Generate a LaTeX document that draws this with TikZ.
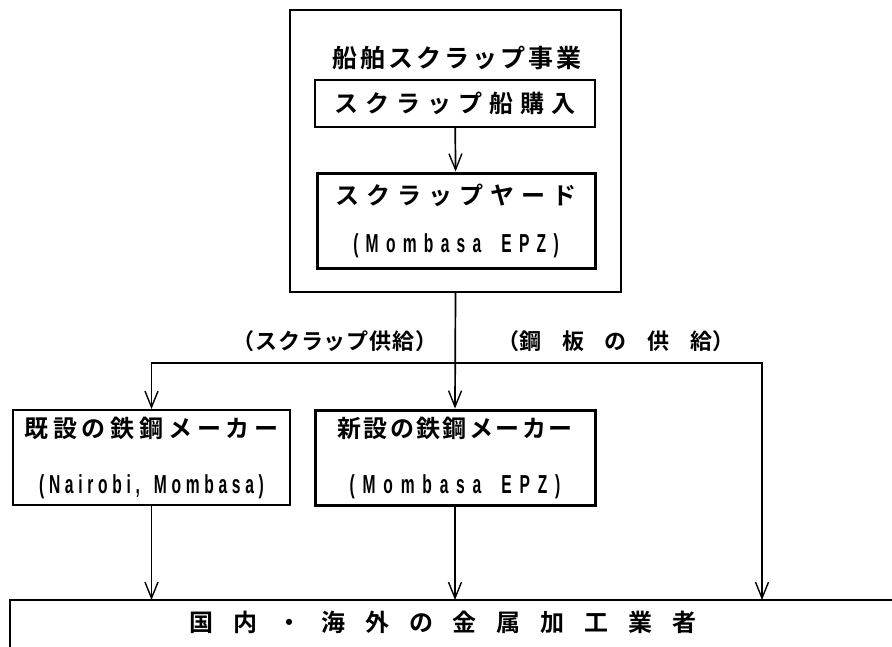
\documentclass[tikz,border=0pt]{standalone}
\usepackage{fontspec}
\setmainfont{Noto Sans CJK JP}[BoldFont={* Bold}]
\newfontfamily\lat[FakeStretch=0.6]{Liberation Sans Bold}
\usetikzlibrary{arrows.meta}
\newcommand{\lsp}[2]{{\addfontfeatures{LetterSpace=#1}#2}}
\newcommand{\latt}[2]{{\lat\fontsize{26}{26}\selectfont\addfontfeatures{LetterSpace=#1}#2}}
\newcommand{\wsp}{\hspace{20pt}}
\tikzset{
  box/.style={draw, line width=1.6pt, inner sep=0pt, align=center},
  thickbox/.style={box, line width=3pt},
  conn/.style={line width=1.7pt},
  arr/.style={conn, -{Straight Barb[length=16pt,width=13pt,line width=1.4pt]}},
  jp/.style={font=\fontsize{24}{24}\selectfont\bfseries, inner sep=0pt},
}
\begin{document}
\begin{tikzpicture}[x=1pt,y=-1pt]
\useasboundingbox[fill=white] (0,0) rectangle (892,646);
% top group
\node[box, minimum width=331pt, minimum height=282pt] (outer) at (455.5,151) {};
\node[jp, font=\fontsize{25}{25}\selectfont\bfseries] (title) at (457,58) {\lsp{12}{船舶スクラップ事業}};
\node[box, jp, minimum width=280pt, minimum height=47pt] (buy) at (455,103.5) {\lsp{29}{スクラップ船購入}};
\node[thickbox, jp, font=\fontsize{24}{48}\selectfont\bfseries, minimum width=278pt, minimum height=95pt] (yard) at (456,220.5)
  {\raisebox{-3pt}{\lsp{29}{スクラップヤード}}\\\raisebox{-3pt}{\latt{28}{(Mombasa\wsp EPZ)}}};
\draw[arr] (buy) -- (yard);
% makers
\node[box, jp, line width=2pt, font=\fontsize{24}{56}\selectfont\bfseries, minimum width=277pt, minimum height=95pt] (old) at (151.5,457.5)
  {\lsp{20}{既設の鉄鋼メーカー}\\\latt{18}{(Nairobi,\hspace{14pt}Mombasa)}};
\node[thickbox, jp, font=\fontsize{24}{56}\selectfont\bfseries, minimum width=280pt, minimum height=95pt] (new) at (455,457.5)
  {\lsp{10}{新設の鉄鋼メーカー}\\\latt{30}{(Mombasa\wsp EPZ)}};
% junction and labels
\coordinate (j) at (455,363);
\coordinate (r) at (762,363);
\node[jp, font=\fontsize{22}{22}\selectfont\bfseries] (lab1) at (335,341) {\lsp{4}{（スクラップ供給）}};
\node[jp, font=\fontsize{22}{22}\selectfont\bfseries] (lab2) at (616,341) {（\lsp{95}{鋼板の供給}）};
% bottom box
\coordinate (btl) at (10,600);
\coordinate (btr) at (900,600);
\coordinate (bbl) at (10,650);
\draw[conn] (btr) -- (btl) -- (bbl);
\node[jp] (users) at (443,622) {\lsp{83}{国内・海外の金属加工業者}};
\coordinate (b1) at (old.south |- btl);
\coordinate (b2) at (new.south |- btl);
\coordinate (b3) at (r |- btl);
% connectors
\draw[arr] (outer.south) -- (new.north);
\draw[arr] (j) -| (old.north);
\draw[arr] (j) -- (r) -- (b3);
\draw[arr] (old.south) -- (b1);
\draw[arr] (new.south) -- (b2);
\end{tikzpicture}
\end{document}
